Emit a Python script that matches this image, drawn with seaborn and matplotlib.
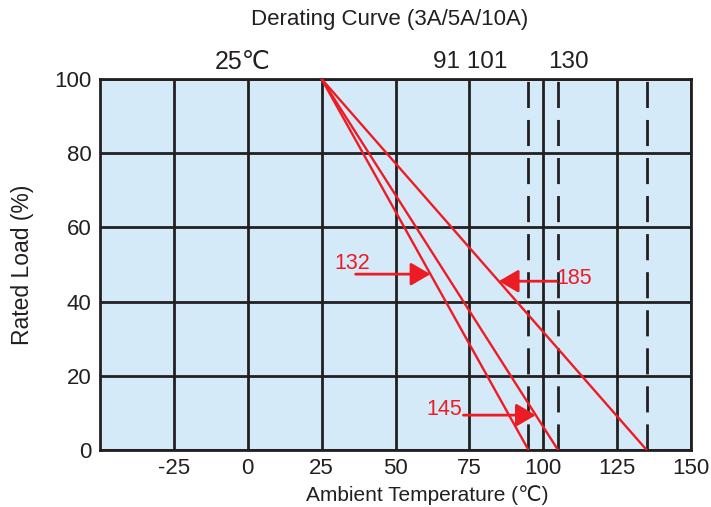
import numpy as np
import pandas as pd
import matplotlib
matplotlib.use("Agg")
import matplotlib.pyplot as plt
import seaborn as sns

# derating curves: full load until 25C, then linear down to zero
start_temp = 25
end_temps = [95, 105, 135]
curve_names = ["132", "145", "185"]
dashed_temps = [95, 105, 135]

x_ticks = [-25, 0, 25, 50, 75, 100, 125, 150]
y_ticks = [0, 20, 40, 60, 80, 100]

# arrow annotations: label, load level, tail temp, text position
arrow_labels = ["132", "145", "185"]
arrow_loads = [47.4, 9.4, 45.5]
arrow_tails = [36.5, 73.0, 104.5]
label_pos = [(35.5, 50.3), (66.5, 10.8), (110.5, 46.3)]

sns.set_style("white")
plt.rcParams["font.family"] = ["Liberation Sans", "DejaVu Sans"]
plt.rcParams["axes.unicode_minus"] = False

rows = []
for name, end in zip(curve_names, end_temps):
    rows.append({"curve": name, "temp": start_temp, "load": 100})
    rows.append({"curve": name, "temp": end, "load": 0})
df = pd.DataFrame(rows)

dark = "#231f20"
red = "#ed1c24"

fig = plt.figure(figsize=(7.11, 5.07), dpi=100)
ax = fig.add_axes([100 / 711, 57 / 507, 591 / 711, 371 / 507])
ax.set_facecolor("#d5eaf8")

for t in dashed_temps:
    ax.axvline(t, color=dark, lw=2, ls=(0, (9.4, 4.3)), zorder=2)

sns.lineplot(data=df, x="temp", y="load", units="curve", estimator=None,
             color=red, lw=1.7, ax=ax, legend=False, zorder=3)

ax.set_xlim(-50, 150)
ax.set_ylim(0, 100)
ax.set_xticks(x_ticks)
ax.set_yticks(y_ticks)
ax.tick_params(length=0, labelsize=16, colors=dark, pad=6)
ax.grid(True, color=dark, lw=2)
ax.set_axisbelow(False)
for sp in ax.spines.values():
    sp.set_color(dark)
    sp.set_linewidth(2)

ax.set_xlabel("Ambient Temperature (℃)", fontsize=15, color=dark)
ax.xaxis.set_label_coords((427 - 100) / 591, (450 - 495) / 371)
ax.xaxis.label.set_va("center")
ax.set_ylabel("Rated Load (%)", fontsize=16.5, color=dark)
ax.yaxis.set_label_coords((23 - 100) / 591, (450 - 265) / 371)
ax.yaxis.label.set_va("center")

fig.text(390 / 711, 1 - 20 / 507, "Derating Curve (3A/5A/10A)", ha="center", va="center",
         fontsize=16, color=dark)
fig.text(243 / 711, 1 - 62 / 507, "25℃", ha="center", va="center", fontsize=18, color=dark)
fig.text(470 / 711, 1 - 62 / 507, "91 101", ha="center", va="center", fontsize=17.5, color=dark)
fig.text(568 / 711, 1 - 62 / 507, "130", ha="center", va="center", fontsize=17.5, color=dark)

# arrows pointing at the curves
for lab, load, tail, (tx, ty) in zip(arrow_labels, arrow_loads, arrow_tails, label_pos):
    end = end_temps[curve_names.index(lab)]
    tip_x = start_temp + (end - start_temp) * (100 - load) / 100
    ax.annotate("", xy=(tip_x, load), xytext=(tail, load),
                arrowprops=dict(arrowstyle="-|>,head_length=0.6,head_width=0.35",
                                color=red, lw=2, mutation_scale=20,
                                shrinkA=0, shrinkB=0), zorder=4)
    ax.text(tx, ty, lab, color=red, fontsize=15.5, va="center", ha="center", zorder=4)

fig.savefig("out.png", dpi=100)
